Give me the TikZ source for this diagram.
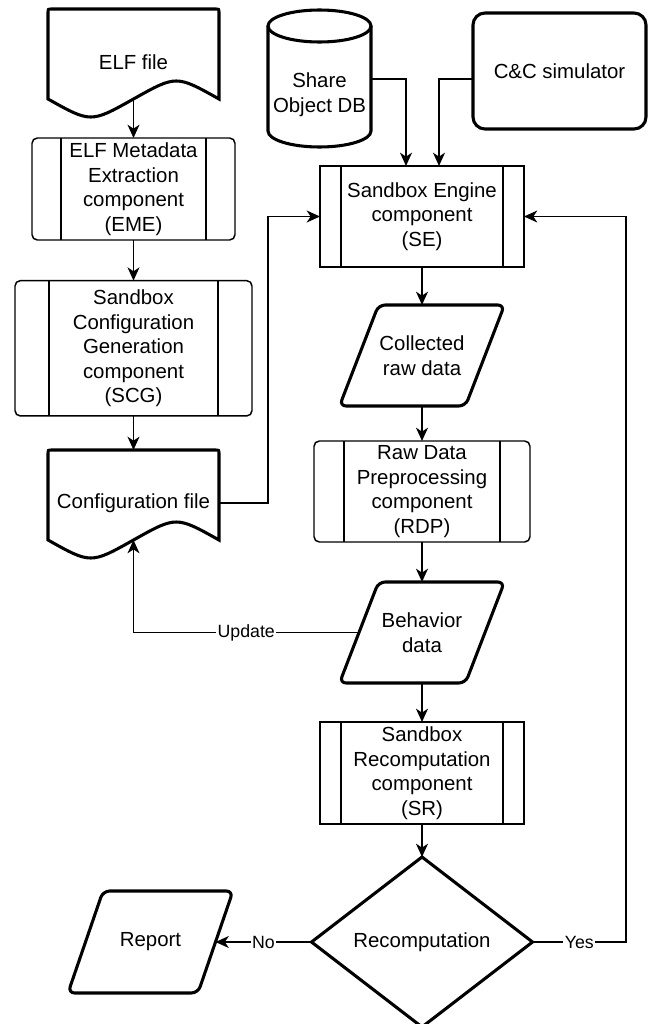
\documentclass[tikz,border=0pt]{standalone}
\usepackage{fontspec}
\setmainfont{Liberation Sans}
\usetikzlibrary{arrows.meta,calc,shapes.geometric}

% outline of a document shape (wavy bottom) around a holder node
\newcommand\docoutline[1]{%
  \draw[thickline]
    ($(#1.south west)+(0,-16)$) -- ($(#1.north west)+(0,4)$)
    .. controls (#1.north west) .. ($(#1.north west)+(4,0)$)
    -- ($(#1.north east)+(-4,0)$)
    .. controls (#1.north east) .. ($(#1.north east)+(0,4)$)
    -- ($(#1.south east)+(0,-16)$)
    .. controls ($(#1.south east)!0.25!(#1.south west)+(0,-40)$) .. ($(#1.south)+(0,-16)$)
    .. controls ($(#1.south east)!0.75!(#1.south west)+(0,8)$) .. ($(#1.south west)+(0,-16)$)
    -- cycle;}

% slanted data box; the holder node spans the middle of the slant
\newcommand\paraoutline[2]{%
  \draw[thickline, rounded corners=5pt]
    ($(#1.north west)+(#2,0)$) -- ($(#1.north east)+(#2,0)$)
    -- ($(#1.south east)+(-#2,0)$) -- ($(#1.south west)+(-#2,0)$) -- cycle;}

% inner vertical bars of a predefined-process box
\newcommand\sidebars[2]{%
  \draw[thinline]
    ($(#1.north west)+(#2,0)$) -- ($(#1.south west)+(#2,0)$)
    ($(#1.north east)+(-#2,0)$) -- ($(#1.south east)+(-#2,0)$);}

% database cylinder; the holder node is the body below the top ellipse
\newcommand\cyloutline[1]{%
  \draw[thickline] ($(#1.north)+(0,-16)$) ellipse [x radius=51.5, y radius=16];
  \draw[thickline]
    ($(#1.north west)+(0,-16)$) -- ($(#1.south west)+(0,-16)$)
    .. controls ($(#1.south west)+(0,-7.16)$) and ($(#1.south)+(-28.44,0)$) .. (#1.south)
    .. controls ($(#1.south)+(28.44,0)$) and ($(#1.south east)+(0,-7.16)$) .. ($(#1.south east)+(0,-16)$)
    -- ($(#1.north east)+(0,-16)$);}

\begin{document}
\begin{tikzpicture}[x=0.75pt,y=-0.75pt,
  thinline/.style={line width=1.1pt},
  thickline/.style={line width=2.3pt},
  txt/.style={font=\fontsize{15.3pt}{18.4pt}\selectfont, align=center,
              inner sep=0pt, outer sep=0pt},
  holder/.style={txt, shape=rectangle},
  proc/.style={txt, draw, thinline, rectangle},
  arr/.style={thinline, -{Stealth[length=10pt,width=9pt,inset=3pt]}},
  lbl/.style={font=\fontsize{13.3pt}{16pt}\selectfont, fill=white, inner sep=1pt},
]
\useasboundingbox (0,0) rectangle (655,1024);

% left column
\node[holder, minimum width=128.25pt, minimum height=79.5pt] (elf) at (133.5,62) {ELF file};
\node[proc, rounded corners=4pt, minimum width=152.25pt, minimum height=76.5pt] (eme) at (133.5,189)
  {ELF Metadata\\Extraction\\component\\(EME)};
\node[proc, rounded corners=4pt, minimum width=177.75pt, minimum height=101.5pt] (scg) at (133.5,348.3)
  {Sandbox\\Configuration\\Generation\\component\\(SCG)};
\node[holder, minimum width=128.25pt, minimum height=79.5pt] (cfg) at (133.5,503) {Configuration file};

% inputs of the sandbox engine
\node[holder, minimum width=77.25pt, minimum height=78.75pt] (cyl) at (319.5,94.5) {Share\\Object DB};
\node[txt, draw, thickline, rounded corners=9pt, minimum width=129.75pt, minimum height=87pt] (cc)
  at (559.5,71) {C\&C simulator};

% right column
\node[proc, minimum width=153pt, minimum height=75.75pt] (se) at (422,216.5)
  {Sandbox Engine\\component\\(SE)};
\node[holder, minimum width=94.5pt, minimum height=75.75pt] (col) at (422,355.5) {Collected\\raw data};
\node[proc, rounded corners=4pt, minimum width=162pt, minimum height=75.75pt] (rdp) at (422,491.5)
  {Raw Data\\Preprocessing\\component\\(RDP)};
\node[holder, minimum width=94.5pt, minimum height=75.75pt] (beh) at (422,632.5) {Behavior\\data};
\node[proc, minimum width=153pt, minimum height=76.5pt] (sr) at (422,773)
  {Sandbox\\Recomputation\\component\\(SR)};
\node[txt, draw, thickline, shape=diamond, minimum width=165.75pt, minimum height=127.5pt] (dec)
  at (422,942) {Recomputation};
\node[holder, minimum width=97.5pt, minimum height=76.5pt] (rep) at (150.5,942) {Report};

% shape outlines
\docoutline{elf}
\docoutline{cfg}
\cyloutline{cyl}
\paraoutline{col}{19.5}
\paraoutline{beh}{19.5}
\paraoutline{rep}{17.5}
\sidebars{eme}{29}
\sidebars{scg}{34}
\sidebars{rdp}{30}
\sidebars{se}{21}
\sidebars{sr}{21}

% connector end points
\coordinate (elfb) at ($(elf.south)+(0,-16)$);
\coordinate (cfgb) at ($(cfg.south)+(0,-16)$);
\coordinate (cylR) at ($(cyl.north east)+(0,37)$);
\coordinate (seA) at ($(se.north)+(-16,0)$);
\coordinate (seB) at ($(se.north)+(17,0)$);
\coordinate (cfgj) at (268,0);
\coordinate (loopx) at (626,0);

% connectors
\draw[arr] (elfb) -- (eme.north);
\draw[arr] (eme.south) -- (scg.north);
\draw[arr] (scg.south) -- (cfg.north);
\draw[arr] (cfg.east) -| (cfgj |- se.west) -- (se.west);
\draw[arr] (cylR) -| (seA);
\draw[arr] (cc.west |- cylR) -| (seB);
\draw[arr] (se.south) -- (col.north);
\draw[arr] (col.south) -- (rdp.north);
\draw[arr] (rdp.south) -- (beh.north);
\draw[arr] (beh.west) -| node[lbl, pos=0.25] {Update} (cfgb);
\draw[arr] (beh.south) -- (sr.north);
\draw[arr] (sr.south) -- (dec.north);
\draw[arr] (dec.west) -- node[lbl] {No} (rep.east);
\draw[arr] (dec.east) -| node[lbl, pos=0.25] {Yes} (loopx |- se.east) -- (se.east);
\end{tikzpicture}
\end{document}
